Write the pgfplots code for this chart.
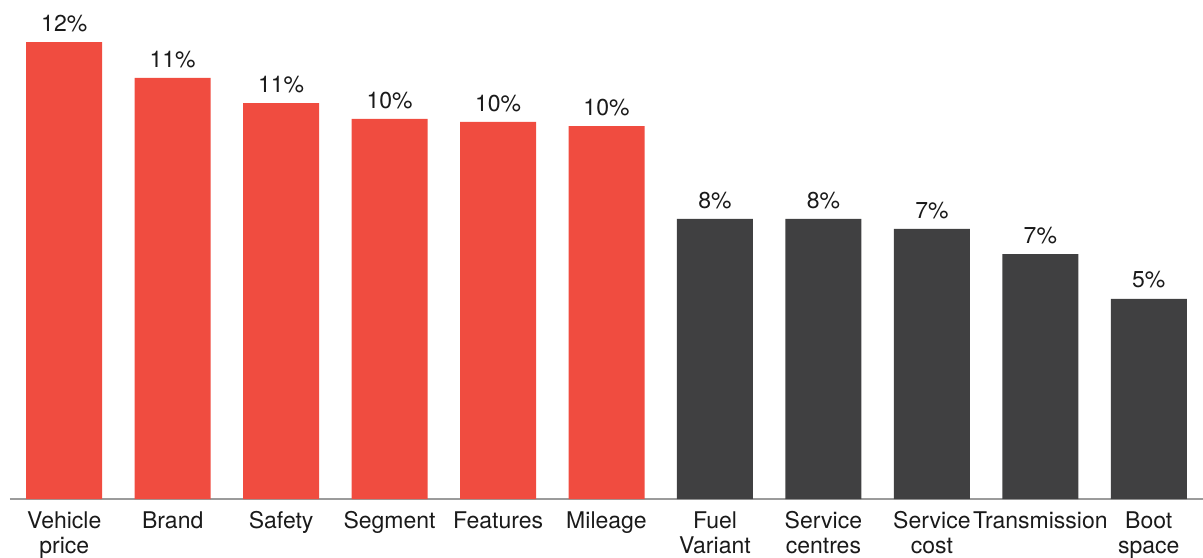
\documentclass[border=0pt]{standalone}
\usepackage{pgfplots}
\pgfplotsset{compat=1.18}
\usepackage{fontspec}
\setmainfont{TeX Gyre Heros}
\definecolor{barred}{HTML}{F04C40}
\definecolor{bardark}{HTML}{404041}
\definecolor{axgray}{HTML}{9B9B9B}
\definecolor{txt}{HTML}{1A1A1A}
\begin{document}
\fontsize{11.5pt}{13pt}\selectfont
\begin{tikzpicture}
\useasboundingbox (-5pt,-29pt) rectangle (596.5pt,249.5pt);
\begin{axis}[
  at={(0,0)}, anchor=south west,
  scale only axis, width=596.5pt, height=249.5pt,
  xmin=-0.5, xmax=10.5, ymin=0, ymax=13.486,
  axis x line*=bottom, axis y line=none,
  axis line style={draw=axgray, line width=1pt, -},
  ybar, bar width=38pt, bar shift=0pt,
  xtick={0,...,10}, major tick length=0pt,
  xticklabels={Vehicle\\price, Brand, Safety, Segment, Features, Mileage, Fuel\\Variant, Service\\centres, Service\\cost, Transmission, Boot\\space},
  xticklabel style={align=center, font=\fontsize{11.5pt}{12.5pt}\selectfont, text=txt, anchor=north, inner sep=0pt, yshift=-6pt},
  ytick=\empty,
  clip=false,
  /pgf/number format/assume math mode=true,
  nodes near coords={\pgfmathprintnumber[fixed, precision=0, assume math mode=true]{\pgfplotspointmeta}\%},
  every node near coord/.append style={font=\fontsize{11.5pt}{13pt}\selectfont, text=txt, anchor=south, inner sep=0pt, yshift=5pt},
]
\addplot[fill=barred, draw=none] coordinates {(0,12.35) (1,11.38) (2,10.70) (3,10.27) (4,10.19) (5,10.08)};
\addplot[fill=bardark, draw=none] coordinates {(6,7.57) (7,7.57) (8,7.30) (9,6.62) (10,5.41)};
\end{axis}
\end{tikzpicture}
\end{document}
